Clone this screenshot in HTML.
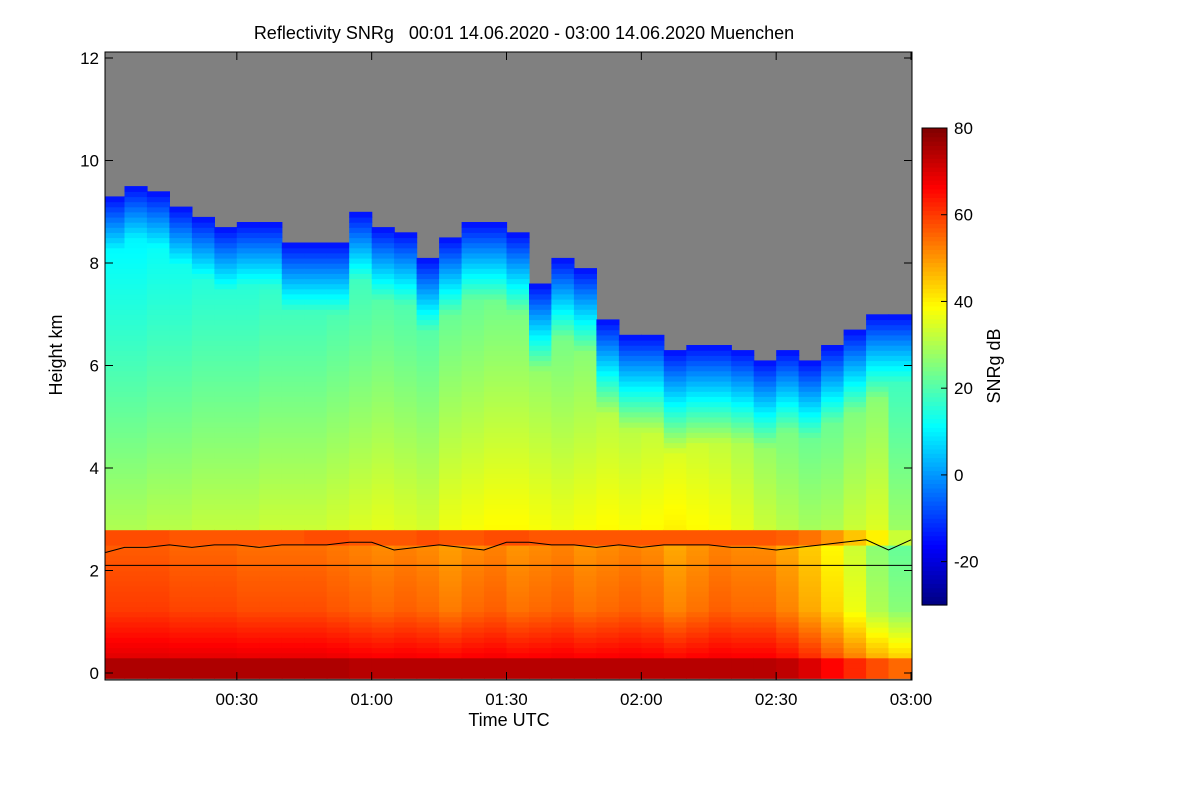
<!DOCTYPE html>
<html><head><meta charset="utf-8"><style>
body{margin:0;background:#fff;font-family:"Liberation Sans",sans-serif;}
svg text{font-family:"Liberation Sans",sans-serif;}
</style></head><body>
<svg id="c" width="1200" height="800" xmlns="http://www.w3.org/2000/svg">
<rect width="1200" height="800" fill="#fff"/>
<text x="524" y="39" font-size="18" text-anchor="middle" style="white-space:pre">Reflectivity SNRg   00:01 14.06.2020 - 03:00 14.06.2020 Muenchen</text>
<g id="heat"></g>
<g id="lines"></g>
<g id="axes"></g>
<g id="cbar"></g>
</svg>
<script>
// ---- data ----
const times = [0,5,10,15,20,25,30,35,40,45,50,55,60,65,70,75,80,85,90,95,100,105,110,115,120,125,130,135,140,145,150,155,160,165,170,175,180];
const cloudTop = [9.2,9.4,9.3,9.0,8.8,8.6,8.7,8.7,8.3,8.3,8.3,8.9,8.6,8.5,8.0,8.4,8.7,8.7,8.5,7.5,8.0,7.8,6.8,6.5,6.5,6.2,6.3,6.3,6.2,6.0,6.2,6.0,6.3,6.6,6.9,6.9,6.7];
const midSNR = [30,30,31,31,32,32,32,33,33,33,34,35,36,35,34,37,38,39,39,38,37,38,39,38,39,40,39,38,36,33,31,29,30,33,35,28,22];
const bandSNR = [58,58,58,57,57,57,57,57,57,58,58,57,57,57,58,57,57,58,58,57,57,57,57,57,57,57,57,57,57,57,56,54,50,45,40,33,28];
const lowSNR = [60,60,60,59,59,59,58,58,58,58,57,56,55,56,55,53,55,56,54,55,56,54,55,56,55,52,54,56,55,55,52,48,43,37,30,26,22];
const groundSNR = [75,75,75,75,75,75,75,75,75,75,75,74,74,74,74,74,74,74,74,74,74,74,74,74,74,74,74,74,74,74,73,70,66,62,58,55,52];
const lineH = [2.35,2.45,2.45,2.5,2.45,2.5,2.5,2.45,2.5,2.5,2.5,2.55,2.55,2.4,2.45,2.5,2.45,2.4,2.55,2.55,2.5,2.5,2.45,2.5,2.45,2.5,2.5,2.5,2.45,2.45,2.4,2.45,2.5,2.55,2.6,2.4,2.6];
const flatH = 2.1;
const yTicks=[0,2,4,6,8,10,12];
const xTicks=[30,60,90,120,150,180];
const xLabels=["00:30","01:00","01:30","02:00","02:30","03:00"];
const cTicks=[80,60,40,20,0,-20];
// ---- scales ----
const X0=105,X1=912,Y0=52,Y1=680;
const xs=m=>102+m*(911-102)/180;
const ys=h=>673-h*51.25;
const cs=v=>605-(v+30)*(605-128)/110;
function jet(v){let t=Math.max(0,Math.min(1,(v+30)/110));
 const f=x=>Math.max(0,Math.min(1,1.5-Math.abs(4*t-x)));
 return `rgb(${Math.round(f(3)*255)},${Math.round(f(2)*255)},${Math.round(f(1)*255)})`;}
const NS="http://www.w3.org/2000/svg";
function el(t,a,p){const e=document.createElementNS(NS,t);for(const k in a)e.setAttribute(k,a[k]);p.appendChild(e);return e;}
const heat=document.getElementById('heat');
el('rect',{x:X0,y:Y0,width:X1-X0,height:Y1-Y0,fill:'#808080'},heat);
for(let i=0;i<times.length-1;i++){
 const xa=Math.max(X0,xs(times[i])),xb=xs(times[i+1]);
 for(let h=-0.1;h<12.1;h+=0.1){
  const top=cloudTop[i];if(h>top)continue;
  let v;
  if(h<0.3) v=groundSNR[i];
  else if(h<1.2) v=lowSNR[i]+(groundSNR[i]-lowSNR[i])*(1.2-h)/0.9*0.6;
  else if(h<2.5) v=lowSNR[i]-(h-1.2)*3;
  else if(h<2.8) v=bandSNR[i];
  else {
   const core=midSNR[i]-(h-2.8)*3.5;
   const edge=-14+(top-h)*25;
   v=Math.min(core,edge);
  }
  const r=el('rect',{x:xa.toFixed(1),y:ys(h+0.1).toFixed(1),width:(xb-xa+0.6).toFixed(1),height:5.8,fill:jet(v)},heat);
  
  
 }
}
const lines=document.getElementById('lines');
let d='';times.forEach((t,i)=>{d+=(i?'L':'M')+Math.max(X0,xs(t)).toFixed(1)+','+ys(lineH[i]).toFixed(1);});
const pl=el('path',{d:d,fill:'none',stroke:'#000','stroke-width':1},lines);


const fl=el('line',{x1:X0,x2:X1,y1:ys(flatH),y2:ys(flatH),stroke:'#000','stroke-width':1},lines);


const ax=document.getElementById('axes');
el('rect',{x:X0,y:Y0,width:X1-X0,height:Y1-Y0,fill:'none',stroke:'#000','stroke-width':1},ax);
yTicks.forEach(v=>{const y=ys(v);
 el('line',{x1:X0,x2:X0+8,y1:y,y2:y,stroke:'#000'},ax);el('line',{x1:X1,x2:X1-8,y1:y,y2:y,stroke:'#000'},ax);
 const t=el('text',{x:X0-6,y:y+6,'font-size':17,'text-anchor':'end'},ax);t.textContent=v;
 });
xTicks.forEach((v,i)=>{const x=xs(v);
 el('line',{x1:x,x2:x,y1:Y1,y2:Y1-8,stroke:'#000'},ax);el('line',{x1:x,x2:x,y1:Y0,y2:Y0+8,stroke:'#000'},ax);
 const t=el('text',{x:x,y:705,'font-size':17,'text-anchor':'middle'},ax);t.textContent=xLabels[i];
 });
let t=el('text',{x:509,y:726,'font-size':18,'text-anchor':'middle'},ax);t.textContent='Time UTC';

t=el('text',{x:62,y:355,'font-size':18,'text-anchor':'middle',transform:'rotate(-90 62 355)'},ax);t.textContent='Height km';

const cb=document.getElementById('cbar');
for(let v=-30;v<80;v+=1){el('rect',{x:922,y:cs(v+1).toFixed(1),width:25,height:(cs(v)-cs(v+1)+0.6).toFixed(1),fill:jet(v+0.5)},cb);}
el('rect',{x:922,y:128,width:25,height:477,fill:'none',stroke:'#000'},cb);
cTicks.forEach(v=>{const y=cs(v);el('line',{x1:941,x2:947,y1:y,y2:y,stroke:'#000'},cb);
 const tt=el('text',{x:954,y:y+6,'font-size':17},cb);tt.textContent=v;
 });
t=el('text',{x:1000,y:366,'font-size':18,'text-anchor':'middle',transform:'rotate(-90 1000 366)'},cb);t.textContent='SNRg dB';

</script>
</body></html>
